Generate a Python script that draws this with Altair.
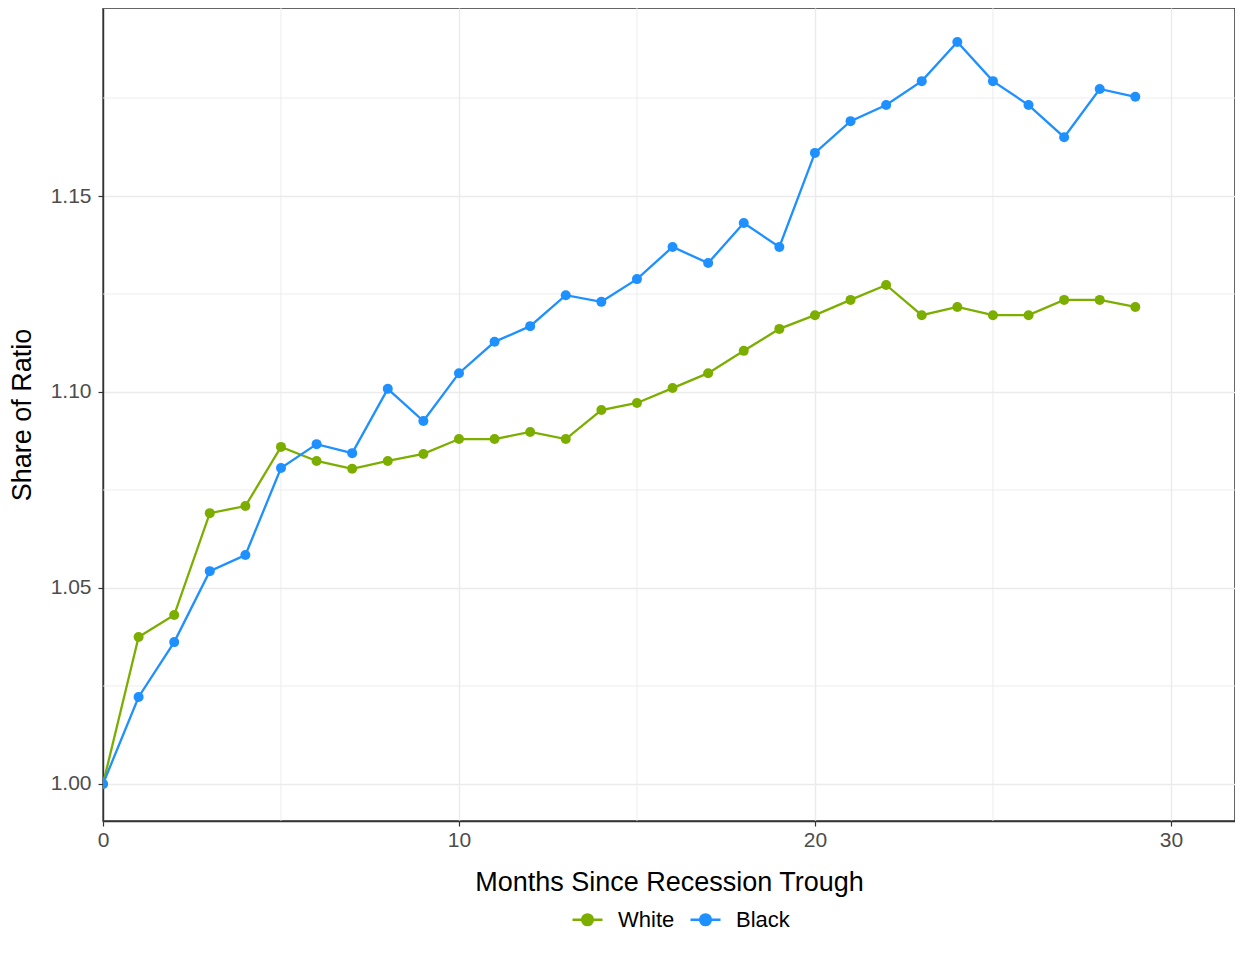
import altair as alt
import pandas as pd

months = list(range(30))
white = [1.000, 1.0375, 1.0431, 1.0691, 1.0709, 1.0860, 1.0824, 1.0804, 1.0824, 1.0842,
         1.0880, 1.0880, 1.0898, 1.0880, 1.0954, 1.0972, 1.1010, 1.1048, 1.1105, 1.1161,
         1.1196, 1.1235, 1.1273, 1.1196, 1.1217, 1.1196, 1.1196, 1.1235, 1.1235, 1.1217]
black = [1.000, 1.0222, 1.0362, 1.0543, 1.0584, 1.0806, 1.0867, 1.0844, 1.1008, 1.0926,
         1.1048, 1.1128, 1.1168, 1.1247, 1.1230, 1.1288, 1.1370, 1.1329, 1.1431, 1.1370,
         1.1610, 1.1691, 1.1732, 1.1793, 1.1893, 1.1793, 1.1732, 1.1650, 1.1773, 1.1753]
groups = ["White", "Black"]
colors = ["#7CAE00", "#1E90FF"]
x_major = [0, 10, 20, 30]
x_minor = [5, 15, 25]
y_major = [1.00, 1.05, 1.10, 1.15]
y_minor = [1.025, 1.075, 1.125, 1.175]

df = pd.DataFrame({
    "month": months * 2,
    "ratio": white + black,
    "group": ["White"] * len(months) + ["Black"] * len(months),
})

W, H = 1132, 813
FONT = "Liberation Sans"

xs = alt.Scale(domain=[0, 31.8], nice=False, zero=False)
ys = alt.Scale(domain=[0.99056, 1.19796], nice=False, zero=False)
cs = alt.Scale(domain=groups, range=colors)

xminor = alt.Chart(pd.DataFrame({"v": x_minor})).mark_rule(
    color="#EBEBEB", strokeWidth=0.9).encode(x=alt.X("v:Q", scale=xs))
yminor = alt.Chart(pd.DataFrame({"v": y_minor})).mark_rule(
    color="#EBEBEB", strokeWidth=0.9).encode(y=alt.Y("v:Q", scale=ys))

base = alt.Chart(df).encode(
    x=alt.X("month:Q", scale=xs, title="Months Since Recession Trough",
            axis=alt.Axis(values=x_major, format="d", grid=True, gridColor="#EBEBEB",
                          gridWidth=1.4, domain=True, domainColor="#333333", domainWidth=1.4,
                          tickColor="#333333", tickSize=5, tickWidth=1.2, labelFlush=False,
                          labelColor="#4D4D4D", labelFontSize=21, labelFont=FONT,
                          labelPadding=3, titleFontSize=27, titleFont=FONT,
                          titleFontWeight="normal", titleColor="#000000", titlePadding=19)),
    y=alt.Y("ratio:Q", scale=ys, title="Share of Ratio",
            axis=alt.Axis(values=y_major, format=".2f", grid=True, gridColor="#EBEBEB",
                          gridWidth=1.4, domain=True, domainColor="#333333", domainWidth=1.4,
                          tickColor="#333333", tickSize=5, tickWidth=1.2, labelFlush=False,
                          labelColor="#4D4D4D", labelFontSize=21, labelFont=FONT,
                          labelPadding=7, titleFontSize=27, titleFont=FONT,
                          titleFontWeight="normal", titleColor="#000000", titlePadding=14)),
    color=alt.Color("group:N", scale=cs, sort=groups, title=None,
                    legend=alt.Legend(orient="none", direction="horizontal",
                                      legendX=468, legendY=895,
                                      symbolType="M-1,0L1,0M0.36,0A0.36,0.36,0,1,1,-0.36,0A0.36,0.36,0,1,1,0.36,0Z",
                                      symbolSize=900, symbolStrokeWidth=2.3,
                                      labelOffset=14,
                                      labelFontSize=22, labelFont=FONT, labelColor="#000000",
                                      columnPadding=10)),
)

lines = base.mark_line(strokeWidth=2.3, clip=True)
points = base.mark_point(filled=True, size=100, opacity=1, clip=True)

chart = alt.layer(xminor, yminor, lines, points).properties(
    width=W, height=H,
    autosize=alt.AutoSizeParams(type="none"),
    padding={"left": 95, "top": 0, "right": 0, "bottom": 114},
).configure(background="white").configure_view(stroke="#333333", strokeWidth=1.5)

chart.save("out.html", embed_options={"renderer": "svg", "actions": False})
